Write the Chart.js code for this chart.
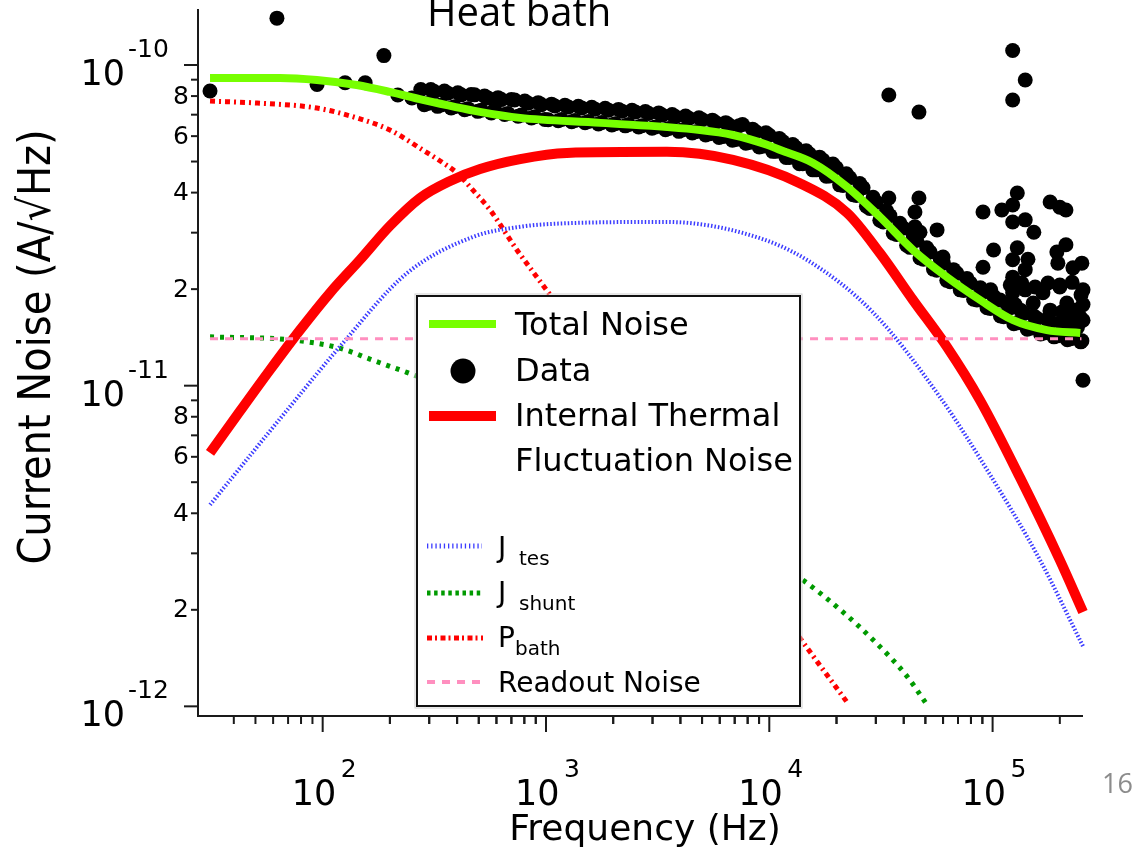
<!DOCTYPE html>
<html>
<head>
<meta charset="utf-8">
<title>Current Noise vs Frequency</title>
<script src="https://cdn.jsdelivr.net/npm/chart.js"></script>
<style>
  body { margin: 0; background: #fff; }
</style>
</head>
<body>
<canvas id="noiseChart" width="1144" height="850"></canvas>

<script>
  // ---- values (Hz, A/rtHz) ----
  const totalFreq  = [31.3, 64.4, 94.2, 142, 200, 281, 506, 766, 1750, 4900, 6880, 9770, 11200, 15700, 22300, 31300, 44000, 62500, 87900, 123600, 175000, 247000];
  const totalNoise = [9.11e-11, 9.11e-11, 8.98e-11, 8.66e-11, 8.24e-11, 7.78e-11, 7.14e-11, 6.84e-11, 6.60e-11, 6.27e-11, 6.05e-11, 5.64e-11, 5.43e-11, 4.95e-11, 4.17e-11, 3.36e-11, 2.65e-11, 2.18e-11, 1.85e-11, 1.60e-11, 1.49e-11, 1.46e-11];

  const ittfFreq  = [31.3, 42.7, 58.1, 79.1, 108, 147, 200, 273, 372, 507, 766, 1240, 3480, 6880, 13700, 22300, 31300, 44000, 62500, 87900, 133000, 200000, 254000];
  const ittfNoise = [6.17e-12, 8.34e-12, 1.12e-11, 1.49e-11, 1.95e-11, 2.47e-11, 3.15e-11, 3.85e-11, 4.35e-11, 4.74e-11, 5.09e-11, 5.32e-11, 5.36e-11, 5.06e-11, 4.28e-11, 3.46e-11, 2.59e-11, 1.85e-11, 1.32e-11, 9.0e-12, 5.15e-12, 2.86e-12, 1.97e-12];

  const jtesFreq  = [31.3, 69.3, 119, 238, 471, 766, 1240, 3480, 8200, 14700, 29200, 58200, 97500, 163000, 254000];
  const jtesNoise = [4.25e-12, 8.39e-12, 1.32e-11, 2.24e-11, 2.91e-11, 3.13e-11, 3.21e-11, 3.24e-11, 2.95e-11, 2.47e-11, 1.69e-11, 9.2e-12, 5.27e-12, 2.86e-12, 1.54e-12];

  const jshuntFreq  = [31.3, 71.5, 119, 168, 238, 500, 1000, 3000, 7000, 14100, 20800, 29200, 41400, 50900];
  const jshuntNoise = [1.42e-11, 1.39e-11, 1.31e-11, 1.20e-11, 1.10e-11, 9.0e-12, 7.0e-12, 4.6e-12, 3.4e-12, 2.48e-12, 2.0e-12, 1.61e-12, 1.24e-12, 1.01e-12];

  const pbathFreq  = [31.3, 50.9, 94.2, 142, 200, 281, 336, 400, 471, 562, 741, 1020, 2000, 5000, 14100, 22300];
  const pbathNoise = [7.72e-11, 7.61e-11, 7.34e-11, 6.84e-11, 6.27e-11, 5.43e-11, 5.02e-11, 4.60e-11, 4.07e-11, 3.53e-11, 2.65e-11, 1.96e-11, 1.02e-11, 4.3e-12, 1.59e-12, 1.03e-12];

  const readoutFreq  = [31.3, 250000];
  const readoutNoise = [1.40e-11, 1.40e-11];

  // measured points: sparse low-frequency points, the dense band, then outliers
  const dataFreq = [
    31.3, 62.4, 94.4, 126, 155, 188, 217, 251,
    275, 295, 316, 339, 363, 389, 417, 447, 479, 513,
    550, 589, 631, 676, 724, 776, 832, 891, 955, 1023,
    1096, 1175, 1259, 1349, 1445, 1549, 1660, 1778, 1905, 2042,
    2188, 2344, 2512, 2692, 2884, 3090, 3311, 3548, 3802, 4074,
    4365, 4677, 5012, 5370, 5754, 6166, 6607, 7079, 7586, 8128,
    8710, 9333, 10000, 10715, 11482, 12303, 13183, 14125, 15136, 16218,
    17378, 18621, 19953, 21380, 22909, 24547, 26303, 28184, 30200, 32359,
    34674, 37154, 39811, 42658, 45709, 48978, 52481, 56234, 60256, 64565,
    69183, 74131, 79433, 85114, 91201, 97724, 104713, 112202, 120226, 128825,
    138038, 147911, 158489, 169824, 181970, 194984, 208930, 223872, 239883, 251189,
    34300, 46800, 44900, 44900, 47300, 56400, 60000, 90600, 110000, 123000,
    129000, 123000, 140000, 153000, 181000, 200000, 213000, 101000, 90600, 129000,
    144000, 123000, 140000, 123000, 213000, 194000, 196000, 251000, 229000, 200000,
    249000, 140000, 168000, 123000, 152000, 215000, 246000, 108000, 181000, 220000,
    98000, 123000, 140000, 123000, 34300, 46800, 254000,
    120000, 135000, 155000, 177000, 200000, 227000, 254000, 126000, 181000, 205000,
    234000, 254000, 254000
  ];
  const dataNoise = [
    8.3e-11, 1.40e-10, 8.7e-11, 8.8e-11, 8.8e-11, 1.07e-10, 8.06e-11, 7.89e-11,
    8.38e-11, 7.59e-11, 8.26e-11, 7.50e-11, 8.17e-11, 7.41e-11, 8.07e-11, 7.31e-11, 8.07e-11, 7.23e-11,
    7.89e-11, 7.23e-11, 7.80e-11, 7.06e-11, 7.78e-11, 6.98e-11, 7.60e-11, 6.90e-11, 7.52e-11, 6.75e-11,
    7.45e-11, 6.76e-11, 7.40e-11, 6.71e-11, 7.35e-11, 6.67e-11, 7.28e-11, 6.62e-11, 7.23e-11, 6.56e-11,
    7.18e-11, 6.52e-11, 7.13e-11, 6.47e-11, 7.06e-11, 6.41e-11, 6.98e-11, 6.34e-11, 6.90e-11, 6.27e-11,
    6.82e-11, 6.19e-11, 6.75e-11, 6.10e-11, 6.62e-11, 5.98e-11, 6.50e-11, 5.86e-11, 6.52e-11, 5.73e-11,
    6.19e-11, 5.58e-11, 6.04e-11, 5.38e-11, 5.77e-11, 5.15e-11, 5.52e-11, 4.92e-11, 5.28e-11, 4.71e-11,
    5.05e-11, 4.51e-11, 4.78e-11, 4.21e-11, 4.45e-11, 3.92e-11, 4.14e-11, 3.57e-11, 3.73e-11, 3.24e-11,
    3.39e-11, 2.96e-11, 3.10e-11, 2.70e-11, 2.84e-11, 2.48e-11, 2.61e-11, 2.29e-11, 2.41e-11, 2.11e-11,
    2.24e-11, 1.98e-11, 2.09e-11, 1.85e-11, 1.96e-11, 1.74e-11, 1.85e-11, 1.64e-11, 1.75e-11, 1.57e-11,
    1.68e-11, 1.51e-11, 1.62e-11, 1.46e-11, 1.58e-11, 1.43e-11, 1.55e-11, 1.40e-11, 1.52e-11, 1.38e-11,
    3.85e-11, 3.85e-11, 3.48e-11, 3.13e-11, 3.01e-11, 3.06e-11, 2.52e-11, 3.48e-11, 3.53e-11, 3.66e-11,
    3.99e-11, 3.24e-11, 3.29e-11, 3.01e-11, 3.74e-11, 3.60e-11, 3.53e-11, 2.65e-11, 2.34e-11, 2.69e-11,
    2.48e-11, 2.47e-11, 2.30e-11, 2.18e-11, 2.75e-11, 2.61e-11, 2.41e-11, 2.41e-11, 2.33e-11, 2.03e-11,
    1.92e-11, 1.99e-11, 1.95e-11, 1.95e-11, 1.81e-11, 1.81e-11, 1.64e-11, 1.85e-11, 1.72e-11, 1.60e-11,
    1.99e-11, 1.11e-10, 8.98e-11, 7.78e-11, 8.06e-11, 7.13e-11, 1.04e-11,
    2.06e-11, 2.09e-11, 2.03e-11, 2.09e-11, 2.06e-11, 2.10e-11, 1.99e-11, 1.79e-11, 1.70e-11, 1.70e-11,
    1.72e-11, 1.79e-11, 1.60e-11
  ];

  // second layer of the dense band (points sit between the ones above)
  const bandFreq = [
    285, 305, 327, 351, 376, 403, 432, 462, 495, 531,
    569, 610, 653, 700, 750, 804, 861, 923, 989, 1059,
    1135, 1216, 1303, 1396, 1496, 1603, 1718, 1841, 1972, 2113,
    2265, 2427, 2600, 2786, 2985, 3199, 3428, 3673, 3936, 4217,
    4519, 4842, 5188, 5559, 5957, 6383, 6839, 7328, 7852, 8414,
    9016, 9661, 10351, 11092, 11885, 12735, 13646, 14622, 15668, 16788,
    17989, 19275, 20654, 22131, 23714, 25410, 27227, 29174, 31261, 33497,
    35892, 38459, 41210, 44157, 47315, 50699, 54325, 58210, 62373, 66834,
    71614, 76736, 82224, 88105, 94406, 101158, 108393, 116145, 124451, 133352,
    142889, 153109, 164059, 175792, 188365, 201837, 216272, 231739, 248313
  ];
  const bandNoise = [
    7.52e-11, 8.38e-11, 7.43e-11, 8.29e-11, 7.35e-11, 8.19e-11, 7.25e-11, 8.09e-11, 7.17e-11, 8.00e-11,
    7.09e-11, 7.91e-11, 7.01e-11, 7.81e-11, 6.92e-11, 7.72e-11, 6.84e-11, 7.63e-11, 6.76e-11, 7.55e-11,
    6.70e-11, 7.49e-11, 6.65e-11, 7.44e-11, 6.61e-11, 7.38e-11, 6.55e-11, 7.33e-11, 6.50e-11, 7.27e-11,
    6.46e-11, 7.22e-11, 6.41e-11, 7.16e-11, 6.35e-11, 7.09e-11, 6.28e-11, 7.01e-11, 6.21e-11, 6.93e-11,
    6.14e-11, 6.85e-11, 6.05e-11, 6.73e-11, 5.94e-11, 6.61e-11, 5.83e-11, 6.47e-11, 5.70e-11, 6.31e-11,
    5.55e-11, 6.15e-11, 5.38e-11, 5.90e-11, 5.15e-11, 5.65e-11, 4.92e-11, 5.40e-11, 4.71e-11, 5.16e-11,
    4.50e-11, 4.91e-11, 4.23e-11, 4.58e-11, 3.94e-11, 4.27e-11, 3.63e-11, 3.87e-11, 3.28e-11, 3.51e-11,
    2.99e-11, 3.21e-11, 2.74e-11, 2.93e-11, 2.50e-11, 2.69e-11, 2.31e-11, 2.49e-11, 2.13e-11, 2.30e-11,
    1.99e-11, 2.16e-11, 1.86e-11, 2.02e-11, 1.75e-11, 1.90e-11, 1.65e-11, 1.80e-11, 1.56e-11, 1.72e-11,
    1.50e-11, 1.65e-11, 1.45e-11, 1.61e-11, 1.42e-11, 1.58e-11, 1.39e-11, 1.55e-11, 1.37e-11
  ];

  const xMajorTicks = [1e2, 1e3, 1e4, 1e5];
  const xMinorMult  = [2, 3, 4, 5, 6, 7, 8, 9];
  const yMajorTicks = [1e-12, 1e-11, 1e-10];
  const yMinorMult  = [2, 3, 4, 5, 6, 7, 8, 9];
  const yLabelMult  = [2, 4, 6, 8];

  const pts = (xs, ys) => xs.map((v, i) => ({x: v, y: ys[i]}));

  function curve(label, xs, ys, color, width, dash, order) {
    return {
      label, data: pts(xs, ys), showLine: true, pointRadius: 0,
      borderColor: color, borderWidth: width, borderDash: dash,
      cubicInterpolationMode: 'monotone', fill: false, order, clip: false
    };
  }

  const FONT = '"DejaVu Sans", sans-serif';

  // axes, ticks, legend and captions drawn on top of the datasets
  const noiseDecor = {
    id: 'noiseDecor',
    afterDatasetsDraw(chart) {
      const {ctx, chartArea: a, scales: {x, y}} = chart;
      ctx.save();

      // legend box (hides the curves underneath, like the original)
      ctx.setLineDash([]);
      ctx.fillStyle = '#fff';
      ctx.fillRect(417, 296, 383, 410);
      ctx.strokeStyle = '#d0d0d0'; ctx.lineWidth = 1;
      ctx.strokeRect(415, 294, 387, 414);
      ctx.strokeStyle = '#111'; ctx.lineWidth = 2;
      ctx.strokeRect(417, 296, 383, 410);

      const sample = (x1, x2, yy, color, w, dash) => {
        ctx.beginPath(); ctx.setLineDash(dash); ctx.strokeStyle = color; ctx.lineWidth = w;
        ctx.moveTo(x1, yy); ctx.lineTo(x2, yy); ctx.stroke();
      };
      sample(429, 496, 324, '#77ff00', 8, []);
      ctx.beginPath(); ctx.fillStyle = '#000'; ctx.arc(463, 371, 12.5, 0, Math.PI * 2); ctx.fill();
      sample(429, 496, 416, '#ff0000', 10, []);
      sample(427, 482, 546, '#3c3cff', 5, [1.3, 2.9]);
      sample(427, 483, 593, '#009a00', 5, [3.5, 3.6]);
      sample(427, 483, 638, '#ff0000', 5, [5, 3, 2, 3.5]);
      sample(427, 482, 682, '#ff8fbf', 4, [8, 7]);
      ctx.setLineDash([]);

      ctx.fillStyle = '#000';
      ctx.textAlign = 'left'; ctx.textBaseline = 'alphabetic';
      ctx.font = '32px ' + FONT;
      ctx.fillText('Total Noise', 515, 335);
      ctx.fillText('Data', 515, 381);
      ctx.fillText('Internal Thermal', 515, 426);
      ctx.fillText('Fluctuation Noise', 515, 471);
      ctx.font = '28px ' + FONT;
      ctx.fillText('J', 498, 557);
      ctx.fillText('J', 498, 602);
      ctx.fillText('P', 498, 647);
      ctx.fillText('Readout Noise', 498, 692);
      ctx.font = '20px ' + FONT;
      ctx.fillText('tes', 519, 565);
      ctx.fillText('shunt', 519, 610);
      ctx.fillText('bath', 515, 655);

      // axis lines
      ctx.strokeStyle = '#1a1a1a'; ctx.lineWidth = 2;
      ctx.beginPath();
      ctx.moveTo(a.left, a.top); ctx.lineTo(a.left, a.bottom); ctx.lineTo(a.right, a.bottom);
      ctx.stroke();

      // x ticks and labels
      xMajorTicks.forEach(dec => {
        const px = x.getPixelForValue(dec);
        ctx.beginPath(); ctx.moveTo(px, a.bottom); ctx.lineTo(px, a.bottom + 16); ctx.stroke();
        xMinorMult.forEach(m => {
          [dec / 10 * m, dec * m].forEach(v => {
            if (v < 40 || v > x.max) return;
            const q = x.getPixelForValue(v);
            ctx.beginPath(); ctx.moveTo(q, a.bottom); ctx.lineTo(q, a.bottom + 8); ctx.stroke();
          });
        });
        const exp = Math.round(Math.log10(dec));
        ctx.font = '35px ' + FONT; ctx.textAlign = 'left';
        ctx.fillText('10', px - 31, 805);
        ctx.font = '25px ' + FONT;
        ctx.fillText(String(exp), px + 18, 777);
      });

      // y ticks and labels
      yMajorTicks.forEach(dec => {
        const py = y.getPixelForValue(dec);
        ctx.beginPath(); ctx.moveTo(a.left - 14, py); ctx.lineTo(a.left, py); ctx.stroke();
        const exp = Math.round(Math.log10(dec));
        ctx.font = '35px ' + FONT; ctx.textAlign = 'right'; ctx.textBaseline = 'alphabetic';
        ctx.fillText('10', 125, py + 20);
        ctx.font = '25px ' + FONT; ctx.textAlign = 'left';
        ctx.fillText(String(exp), 128, py - 8);
        yMinorMult.forEach(m => {
          const v = dec * m;
          if (v > y.max) return;
          const q = y.getPixelForValue(v);
          ctx.beginPath(); ctx.moveTo(a.left - 7, q); ctx.lineTo(a.left, q); ctx.stroke();
          if (yLabelMult.includes(m)) {
            ctx.font = '25px ' + FONT; ctx.textAlign = 'right'; ctx.textBaseline = 'middle';
            ctx.fillText(String(m), 189, q + 1);
            ctx.textBaseline = 'alphabetic';
          }
        });
      });

      // axis titles
      ctx.textAlign = 'center'; ctx.textBaseline = 'alphabetic';
      ctx.font = '36px ' + FONT;
      ctx.fillText('Frequency (Hz)', 645, 840);
      ctx.save();
      ctx.translate(50, 347);
      ctx.rotate(-Math.PI / 2);
      ctx.scale(1, 1.1);
      ctx.font = '40px ' + FONT;
      ctx.fillText('Current Noise (A/\u221AHz)', 0, 0);
      ctx.restore();

      // slide captions
      ctx.textAlign = 'left';
      ctx.font = '40px "Open Sans", sans-serif';
      ctx.fillText('Heat bath', 427, 26);
      ctx.fillStyle = '#8c8c8c';
      ctx.font = '27px "Open Sans", sans-serif';
      ctx.fillText('16', 1102, 793);

      ctx.restore();
    }
  };

  new Chart(document.getElementById('noiseChart'), {
    type: 'scatter',
    data: {
      datasets: [
        curve('Total Noise', totalFreq, totalNoise, '#77ff00', 8, [], 0),
        curve('Readout Noise', readoutFreq, readoutNoise, '#ff8fbf', 3, [8, 7], 1),
        {
          label: 'Data', data: pts(dataFreq, dataNoise).concat(pts(bandFreq, bandNoise)), pointRadius: 7.5,
          pointBackgroundColor: '#000', pointBorderWidth: 0, showLine: false, order: 2, clip: false
        },
        curve('Internal Thermal Fluctuation Noise', ittfFreq, ittfNoise, '#ff0000', 10, [], 3),
        curve('J tes', jtesFreq, jtesNoise, '#3c3cff', 4, [1.5, 2], 4),
        curve('J shunt', jshuntFreq, jshuntNoise, '#009a00', 5, [4, 6], 5),
        curve('P bath', pbathFreq, pbathNoise, '#ff0000', 5, [5, 4, 2, 4], 6)
      ]
    },
    options: {
      responsive: false,
      animation: false,
      devicePixelRatio: 1,
      layout: { padding: { left: 198, right: 61, top: 9, bottom: 134 } },
      plugins: { legend: { display: false }, tooltip: { enabled: false } },
      scales: {
        x: { type: 'logarithmic', min: 27.65, max: 2.54e5, display: false },
        y: { type: 'logarithmic', min: 9.33e-13, max: 1.495e-10, display: false }
      }
    },
    plugins: [noiseDecor]
  });
</script>
</body>
</html>
